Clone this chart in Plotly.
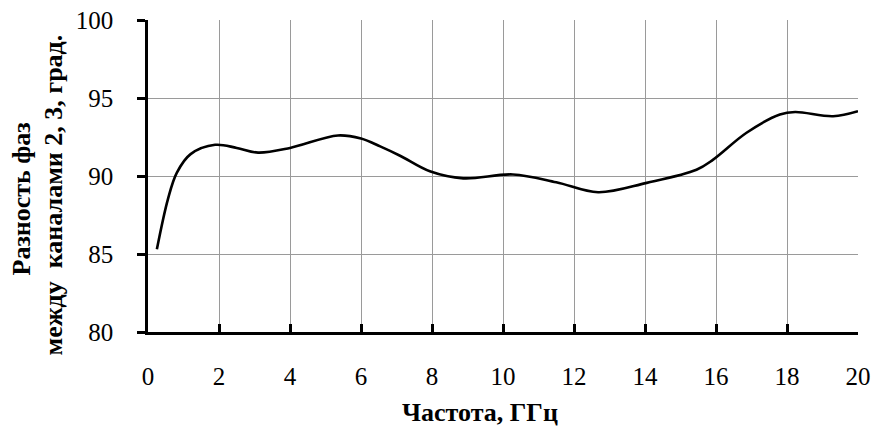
import plotly.graph_objects as go

# Frequency, GHz
freq = [0.25, 0.56, 0.81, 1.2, 1.89, 2.5, 3.1, 4.0, 5.35, 6.0, 6.54, 7.1, 7.94, 8.88, 10.28, 11.5, 12.68, 14.05, 15.45, 15.92, 16.86, 17.8, 18.23, 19.3, 20.0]
# Phase difference between channels 2 and 3, degrees
phase = [85.3, 88.5, 90.2, 91.4, 92.0, 91.8, 91.5, 91.8, 92.6, 92.4, 91.9, 91.3, 90.3, 89.85, 90.1, 89.6, 88.96, 89.56, 90.4, 91.05, 92.77, 93.94, 94.1, 93.83, 94.15]

x_ticks = [0, 2, 4, 6, 8, 10, 12, 14, 16, 18, 20]
y_ticks = [80, 85, 90, 95, 100]

serif = "Liberation Serif, Times New Roman, serif"

fig = go.Figure()
fig.add_trace(go.Scatter(
    x=freq, y=phase, mode="lines",
    line=dict(color="black", width=2.6, shape="spline", smoothing=1.0),
    showlegend=False, hoverinfo="skip",
))

fig.update_layout(
    width=872, height=432,
    margin=dict(l=148, r=14, t=20, b=100),
    paper_bgcolor="white", plot_bgcolor="white",
    font=dict(family=serif, color="black"),
    xaxis=dict(
        range=[0, 20], tickvals=x_ticks, ticktext=[str(v) for v in x_ticks],
        showgrid=True, gridcolor="#9a9a9a", gridwidth=1,
        showline=True, linecolor="black", linewidth=2.5,
        ticks="inside", ticklen=8, tickwidth=2.5, tickcolor="black",
        tickfont=dict(size=25, family=serif), ticklabelstandoff=20,
        zeroline=False, fixedrange=True, automargin=False,
    ),
    yaxis=dict(
        range=[80, 100], tickvals=y_ticks, ticktext=[str(v) for v in y_ticks],
        showgrid=True, gridcolor="#9a9a9a", gridwidth=1,
        showline=True, linecolor="black", linewidth=2.5,
        ticks="outside", ticklen=8, tickwidth=2.5, tickcolor="black",
        tickfont=dict(size=25, family=serif), ticklabelstandoff=19,
        zeroline=False, fixedrange=True, automargin=False,
    ),
    annotations=[
        dict(text="<b>Частота, ГГц</b>", xref="paper", yref="paper",
             x=(480 - 148) / 710, y=-(413 - 332.5) / 312, xanchor="center", yanchor="middle",
             showarrow=False, font=dict(size=26, family=serif)),
        dict(text="<b>Разность фаз</b>", xref="paper", yref="paper",
             x=-(148 - 21) / 710, y=(332.5 - 199) / 312, xanchor="center", yanchor="middle",
             textangle=-90, showarrow=False, font=dict(size=26, family=serif)),
        dict(text="<b>между  каналами 2, 3, град.</b>", xref="paper", yref="paper",
             x=-(148 - 53) / 710, y=(332.5 - 196) / 312, xanchor="center", yanchor="middle",
             textangle=-90, showarrow=False, font=dict(size=26, family=serif)),
    ],
)

fig.write_html("out.html")
